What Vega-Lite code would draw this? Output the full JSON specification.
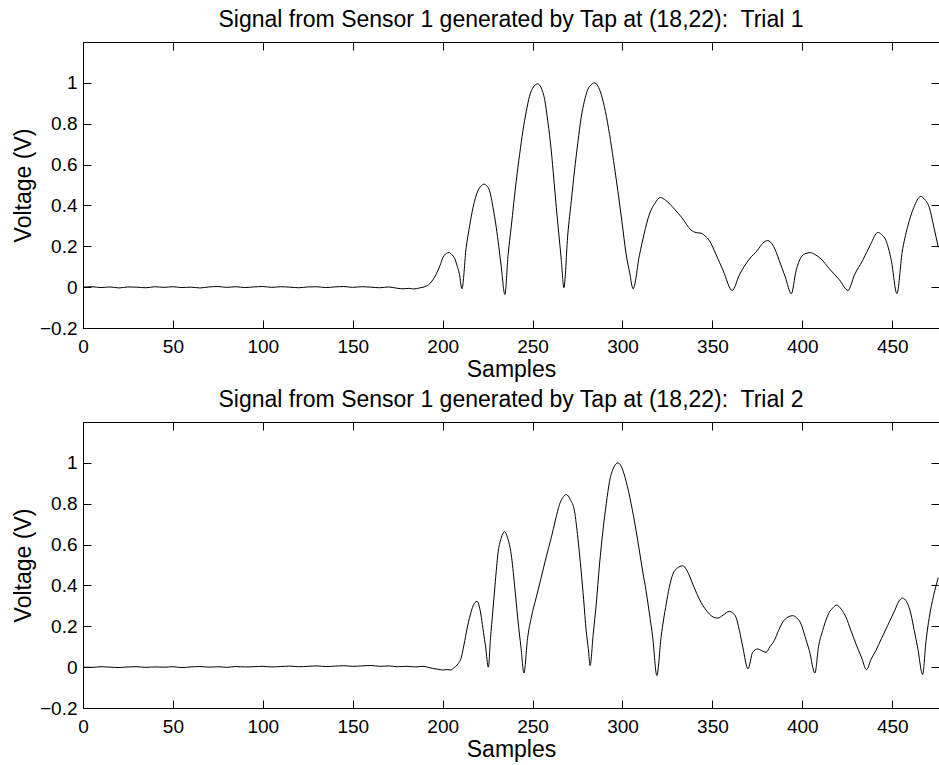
{
  "$schema": "https://vega.github.io/schema/vega-lite/v6.json",
  "padding": {"left": 11, "top": 8, "right": 0, "bottom": 0},
  "datasets": {
    "t1": [
      {"s":0,"v":0.0},{"s":5,"v":0.002},{"s":10,"v":-0.002},{"s":15,"v":0.001},{"s":20,"v":-0.004},{"s":25,"v":0.001},{"s":30,"v":0.0},{"s":35,"v":-0.003},{"s":40,"v":0.002},{"s":45,"v":-0.001},{"s":50,"v":0.002},{"s":55,"v":-0.002},{"s":60,"v":0.0},{"s":65,"v":-0.004},{"s":70,"v":0.001},{"s":75,"v":0.003},{"s":80,"v":-0.001},{"s":85,"v":0.002},{"s":90,"v":-0.002},{"s":95,"v":0.001},{"s":100,"v":0.003},{"s":105,"v":-0.001},{"s":110,"v":0.002},{"s":115,"v":0.0},{"s":120,"v":-0.003},{"s":125,"v":0.001},{"s":130,"v":0.002},{"s":135,"v":-0.002},{"s":140,"v":0.001},{"s":145,"v":0.003},{"s":150,"v":-0.001},{"s":155,"v":0.002},{"s":160,"v":0.0},{"s":165,"v":-0.003},{"s":170,"v":0.001},{"s":175,"v":-0.006},{"s":178,"v":-0.008},{"s":181,"v":-0.006},{"s":184,"v":-0.009},{"s":187,"v":-0.004},{"s":190,"v":0.002},
      {"s":192.8,"v":0.017},{"s":194.5,"v":0.035},{"s":196.5,"v":0.065},{"s":198.5,"v":0.105},{"s":200.2,"v":0.146},{"s":202,"v":0.165},{"s":203.5,"v":0.169},{"s":205,"v":0.16},{"s":206.8,"v":0.138},{"s":208,"v":0.105},{"s":209.3,"v":0.065},{"s":210.7,"v":-0.008},
      {"s":213.1,"v":0.195},{"s":215,"v":0.3},{"s":216.9,"v":0.39},{"s":219.6,"v":0.472},{"s":221.3,"v":0.495},{"s":223,"v":0.504},{"s":224.6,"v":0.495},{"s":226.1,"v":0.472},{"s":228,"v":0.39},{"s":229.8,"v":0.293},{"s":231.2,"v":0.2},{"s":232.6,"v":0.098},{"s":234.6,"v":-0.036},
      {"s":236.4,"v":0.16},{"s":238.1,"v":0.293},{"s":240.9,"v":0.52},{"s":242.8,"v":0.65},{"s":244.6,"v":0.764},{"s":246.5,"v":0.86},{"s":248.3,"v":0.935},{"s":250.5,"v":0.98},{"s":252.8,"v":0.995},{"s":254.8,"v":0.975},{"s":256.7,"v":0.919},{"s":258.5,"v":0.81},{"s":260.4,"v":0.667},{"s":261.8,"v":0.53},{"s":263.2,"v":0.39},{"s":264.6,"v":0.26},{"s":266,"v":0.13},{"s":267.4,"v":-0.003},
      {"s":269.6,"v":0.26},{"s":271.5,"v":0.42},{"s":273.3,"v":0.569},{"s":275.2,"v":0.71},{"s":277,"v":0.829},{"s":278.8,"v":0.91},{"s":280.7,"v":0.968},{"s":282.5,"v":0.99},{"s":284.4,"v":1.0},{"s":286.3,"v":0.985},{"s":288.2,"v":0.943},{"s":290.5,"v":0.86},{"s":292.8,"v":0.748},{"s":295,"v":0.62},{"s":297.4,"v":0.472},{"s":299.7,"v":0.32},{"s":302,"v":0.163},{"s":304,"v":0.07},{"s":305.9,"v":-0.008},
      {"s":309.4,"v":0.155},{"s":312,"v":0.26},{"s":315,"v":0.358},{"s":318,"v":0.41},{"s":321.1,"v":0.439},{"s":324,"v":0.425},{"s":328.9,"v":0.382},{"s":333,"v":0.34},{"s":338.1,"v":0.28},{"s":341,"v":0.267},{"s":343.7,"v":0.264},{"s":346,"v":0.25},{"s":348.3,"v":0.228},{"s":352,"v":0.16},{"s":356,"v":0.08},{"s":361,"v":-0.016},
      {"s":365,"v":0.06},{"s":370.6,"v":0.138},{"s":375,"v":0.18},{"s":378,"v":0.215},{"s":380.7,"v":0.228},{"s":384,"v":0.2},{"s":387.2,"v":0.13},{"s":390.5,"v":0.05},{"s":393.9,"v":-0.032},
      {"s":396.5,"v":0.08},{"s":399.3,"v":0.146},{"s":402,"v":0.165},{"s":404.4,"v":0.169},{"s":407,"v":0.16},{"s":410.4,"v":0.138},{"s":415,"v":0.09},{"s":420.6,"v":0.036},{"s":425.4,"v":-0.016},
      {"s":429,"v":0.06},{"s":433.5,"v":0.13},{"s":438,"v":0.21},{"s":441.9,"v":0.268},{"s":444,"v":0.258},{"s":446.5,"v":0.228},{"s":449.5,"v":0.13},{"s":452.6,"v":-0.032},
      {"s":455.5,"v":0.17},{"s":458.5,"v":0.293},{"s":462,"v":0.39},{"s":465.9,"v":0.444},{"s":468,"v":0.43},{"s":470.6,"v":0.39},{"s":473,"v":0.3},{"s":475.6,"v":0.195}
    ],
    "t2": [
      {"s":0,"v":0.0},{"s":5,"v":-0.001},{"s":10,"v":0.002},{"s":15,"v":0.0},{"s":20,"v":-0.002},{"s":25,"v":0.001},{"s":30,"v":0.002},{"s":35,"v":-0.001},{"s":40,"v":0.001},{"s":45,"v":0.0},{"s":50,"v":0.002},{"s":55,"v":-0.002},{"s":60,"v":0.001},{"s":65,"v":0.003},{"s":70,"v":0.0},{"s":75,"v":0.002},{"s":80,"v":-0.001},{"s":85,"v":0.003},{"s":90,"v":0.001},{"s":95,"v":0.002},{"s":100,"v":0.004},{"s":105,"v":0.001},{"s":110,"v":0.003},{"s":115,"v":0.005},{"s":120,"v":0.002},{"s":125,"v":0.004},{"s":130,"v":0.006},{"s":135,"v":0.003},{"s":140,"v":0.005},{"s":145,"v":0.007},{"s":150,"v":0.004},{"s":155,"v":0.006},{"s":160,"v":0.008},{"s":165,"v":0.004},{"s":170,"v":0.006},{"s":175,"v":0.002},{"s":180,"v":0.004},{"s":185,"v":0.001},{"s":189,"v":0.004},{"s":191.5,"v":0.0},
      {"s":194.3,"v":-0.006},{"s":197,"v":-0.01},{"s":200,"v":-0.014},{"s":202.5,"v":-0.012},{"s":204.6,"v":-0.014},{"s":206,"v":-0.005},{"s":208,"v":0.01},{"s":210.4,"v":0.049},{"s":212.3,"v":0.13},{"s":214.1,"v":0.211},{"s":215.5,"v":0.26},{"s":216.9,"v":0.3},{"s":219.1,"v":0.322},{"s":220.3,"v":0.3},{"s":221.5,"v":0.244},{"s":222.7,"v":0.17},{"s":223.9,"v":0.098},{"s":225.4,"v":0.0},
      {"s":226.6,"v":0.14},{"s":227.9,"v":0.276},{"s":229.3,"v":0.42},{"s":230.7,"v":0.553},{"s":232.5,"v":0.63},{"s":234.4,"v":0.663},{"s":236.2,"v":0.63},{"s":238.1,"v":0.553},{"s":240,"v":0.4},{"s":241.9,"v":0.227},{"s":243.5,"v":0.1},{"s":245.2,"v":-0.029},
      {"s":247.2,"v":0.14},{"s":249.3,"v":0.244},{"s":252,"v":0.34},{"s":254.8,"v":0.439},{"s":257.6,"v":0.54},{"s":260.4,"v":0.634},{"s":262.7,"v":0.72},{"s":265,"v":0.797},{"s":266.8,"v":0.83},{"s":268.7,"v":0.845},{"s":271,"v":0.82},{"s":273.3,"v":0.764},{"s":275.2,"v":0.63},{"s":277,"v":0.471},{"s":278.4,"v":0.33},{"s":279.8,"v":0.179},{"s":281,"v":0.09},{"s":282,"v":0.008},
      {"s":283.7,"v":0.16},{"s":285.4,"v":0.309},{"s":287.2,"v":0.5},{"s":289.1,"v":0.666},{"s":291,"v":0.8},{"s":292.8,"v":0.91},{"s":295,"v":0.975},{"s":297.4,"v":1.0},{"s":299.7,"v":0.975},{"s":302,"v":0.91},{"s":304.8,"v":0.8},{"s":307.6,"v":0.666},{"s":309.4,"v":0.569},{"s":311.2,"v":0.47},{"s":313.1,"v":0.374},{"s":315,"v":0.26},{"s":316.8,"v":0.146},{"s":319.1,"v":-0.041},
      {"s":321.5,"v":0.15},{"s":324.3,"v":0.309},{"s":326,"v":0.39},{"s":328,"v":0.455},{"s":330.5,"v":0.485},{"s":333.5,"v":0.496},{"s":336.3,"v":0.465},{"s":339.1,"v":0.406},{"s":341.3,"v":0.36},{"s":343.7,"v":0.317},{"s":346,"v":0.285},{"s":348.3,"v":0.26},{"s":350.5,"v":0.245},{"s":353,"v":0.24},{"s":356,"v":0.255},{"s":359.4,"v":0.273},{"s":361.3,"v":0.265},{"s":363.1,"v":0.244},{"s":365,"v":0.18},{"s":366.9,"v":0.098},{"s":369.8,"v":-0.008},
      {"s":372.4,"v":0.073},{"s":375.2,"v":0.089},{"s":377.5,"v":0.08},{"s":379.8,"v":0.073},{"s":382,"v":0.1},{"s":384.4,"v":0.13},{"s":386.8,"v":0.18},{"s":389.1,"v":0.22},{"s":392,"v":0.245},{"s":394.6,"v":0.252},{"s":397,"v":0.24},{"s":399.3,"v":0.211},{"s":401.5,"v":0.15},{"s":403.9,"v":0.081},{"s":407,"v":-0.029},
      {"s":409,"v":0.1},{"s":411.3,"v":0.179},{"s":415,"v":0.268},{"s":417,"v":0.29},{"s":419.1,"v":0.304},{"s":421.5,"v":0.285},{"s":424.3,"v":0.244},{"s":427,"v":0.18},{"s":429.8,"v":0.114},{"s":432.8,"v":0.05},{"s":435.7,"v":-0.012},
      {"s":438.3,"v":0.04},{"s":440.9,"v":0.081},{"s":444,"v":0.14},{"s":447.4,"v":0.203},{"s":451.5,"v":0.28},{"s":453.5,"v":0.32},{"s":455.7,"v":0.338},{"s":458,"v":0.32},{"s":460.4,"v":0.26},{"s":462.2,"v":0.18},{"s":464.1,"v":0.098},{"s":466.9,"v":-0.036},
      {"s":468.8,"v":0.13},{"s":470.6,"v":0.244},{"s":473,"v":0.35},{"s":475.6,"v":0.439}
    ]
  },
  "vconcat": [
    {
      "width": 856, "height": 286,
      "data": {"name": "t1"},
      "title": {"text": "Signal from Sensor 1 generated by Tap at (18,22):\u00a0 Trial 1"},
      "layer": [
        {
          "mark": {"type": "line", "color": "black", "strokeWidth": 1, "interpolate": "monotone"},
          "encoding": {
            "x": {"field": "s", "type": "quantitative", "scale": {"domain": [0, 476], "nice": false, "zero": false},
                  "axis": {"title": "Samples", "values": [0,50,100,150,200,250,300,350,400,450], "orient": "bottom"}},
            "y": {"field": "v", "type": "quantitative", "scale": {"domain": [-0.2, 1.2], "nice": false, "zero": false},
                  "axis": {"title": "Voltage (V)", "values": [-0.2,0,0.2,0.4,0.6,0.8,1], "format": "~g", "orient": "left"}}
          }
        },
        {
          "mark": {"type": "line", "strokeOpacity": 0},
          "encoding": {
            "x": {"field": "s", "type": "quantitative", "axis": {"title": null, "labels": false, "domain": false, "values": [0,50,100,150,200,250,300,350,400,450], "orient": "top"}},
            "y": {"field": "v", "type": "quantitative", "axis": {"title": null, "labels": false, "domain": false, "values": [-0.2,0,0.2,0.4,0.6,0.8,1], "orient": "right"}}
          }
        }
      ],
      "resolve": {"axis": {"x": "independent", "y": "independent"}}
    },
    {
      "width": 856, "height": 286,
      "data": {"name": "t2"},
      "title": {"text": "Signal from Sensor 1 generated by Tap at (18,22):\u00a0 Trial 2"},
      "layer": [
        {
          "mark": {"type": "line", "color": "black", "strokeWidth": 1, "interpolate": "monotone"},
          "encoding": {
            "x": {"field": "s", "type": "quantitative", "scale": {"domain": [0, 476], "nice": false, "zero": false},
                  "axis": {"title": "Samples", "values": [0,50,100,150,200,250,300,350,400,450], "orient": "bottom"}},
            "y": {"field": "v", "type": "quantitative", "scale": {"domain": [-0.2, 1.2], "nice": false, "zero": false},
                  "axis": {"title": "Voltage (V)", "values": [-0.2,0,0.2,0.4,0.6,0.8,1], "format": "~g", "orient": "left"}}
          }
        },
        {
          "mark": {"type": "line", "strokeOpacity": 0},
          "encoding": {
            "x": {"field": "s", "type": "quantitative", "axis": {"title": null, "labels": false, "domain": false, "values": [0,50,100,150,200,250,300,350,400,450], "orient": "top"}},
            "y": {"field": "v", "type": "quantitative", "axis": {"title": null, "labels": false, "domain": false, "values": [-0.2,0,0.2,0.4,0.6,0.8,1], "orient": "right"}}
          }
        }
      ],
      "resolve": {"axis": {"x": "independent", "y": "independent"}}
    }
  ],
  "spacing": 6,
  "config": {
    "font": "Liberation Sans",
    "view": {"stroke": "black", "strokeWidth": 1},
    "axis": {
      "grid": false, "domainColor": "black", "tickColor": "black", "labelColor": "black", "titleColor": "black",
      "labelFontSize": 19, "titleFontSize": 23, "titleFontWeight": "normal",
      "tickSize": -8, "labelFlush": false, "labelOverlap": false
    },
    "axisX": {"labelPadding": 17, "titlePadding": 2},
    "axisY": {"labelPadding": 14, "titlePadding": 4},
    "title": {"fontSize": 23, "fontWeight": "normal", "color": "black", "offset": 10}
  }
}
